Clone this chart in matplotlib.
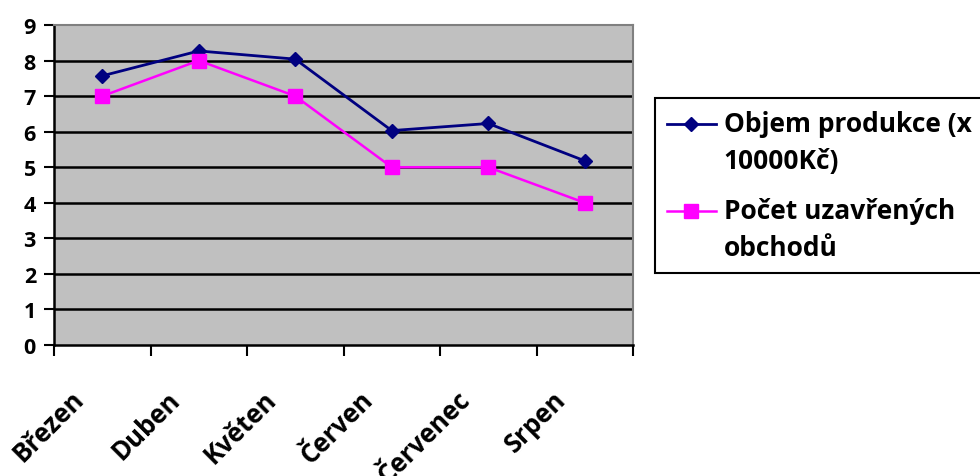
import numpy as np
import matplotlib.pyplot as plt
from matplotlib.transforms import ScaledTranslation
from matplotlib.legend_handler import HandlerLine2D

# data
months = ['Březen', 'Duben', 'Květen', 'Červen', 'Červenec', 'Srpen']
objem = [7.57, 8.27, 8.04, 6.03, 6.23, 5.18]
pocet = [7, 8, 7, 5, 5, 4]
labels = ['Objem produkce (x\n10000Kč)', 'Počet uzavřených\nobchodů']

plt.rcParams['font.family'] = ['Open Sans', 'DejaVu Sans']
plt.rcParams['font.weight'] = 'bold'


class UpHandler(HandlerLine2D):
    # legend marker sits on the first line of a two-line label
    def __init__(self, shift, **kw):
        super().__init__(**kw)
        self.shift = shift

    def create_artists(self, legend, orig_handle, xdescent, ydescent,
                       width, height, fontsize, trans):
        return super().create_artists(legend, orig_handle, xdescent,
                                      ydescent - self.shift, width, height,
                                      fontsize, trans)


fig = plt.figure(figsize=(9.8, 4.77), dpi=100)
ax = fig.add_axes([54 / 980, 1 - 346 / 477, (633 - 54) / 980, (346 - 26) / 477])
ax.set_facecolor('#C0C0C0')

x = np.arange(len(months))
for yv in range(1, 9):
    ax.axhline(yv, color='black', lw=1.8, zorder=1)

l1, = ax.plot(x, objem, color='#000080', lw=2, marker='D', ms=7.5, zorder=3)
l2, = ax.plot(x, pocet, color='#FF00FF', lw=1.8, marker='s', ms=10, zorder=3)

ax.set_xlim(-0.5, len(months) - 0.5)
ax.set_ylim(0, 9)
ax.set_yticks(range(10))
ax.set_yticklabels([str(v) for v in range(10)], fontsize=15.5, fontweight='bold')
ax.tick_params(axis='y', length=7, width=1.5, pad=6, direction='out')

ax.set_xticks(x)
ax.set_xticks(np.arange(-0.5, len(months)), minor=True)
ax.tick_params(axis='x', which='major', length=0, pad=0)
ax.tick_params(axis='x', which='minor', length=8, width=1.5, direction='out')
ax.set_xticklabels(months, fontsize=18.5, fontweight='bold', rotation=45,
                   ha='right', va='top')
off = ScaledTranslation(-13 / 100, -40 / 100, fig.dpi_scale_trans)
for t in ax.get_xticklabels():
    t.set_transform(t.get_transform() + off)

for s in ['left', 'bottom']:
    ax.spines[s].set_color('black')
    ax.spines[s].set_linewidth(1.8)
for s in ['right', 'top']:
    ax.spines[s].set_color('#808080')
    ax.spines[s].set_linewidth(1.5)

leg = fig.legend([l1, l2], labels, loc='upper left',
                 bbox_to_anchor=(655 / 980, 1 - 99 / 477), borderaxespad=0,
                 fancybox=False, framealpha=1, edgecolor='black',
                 prop={'size': 19, 'weight': 'bold'}, handlelength=1.85,
                 handletextpad=0.3, labelspacing=0.85, borderpad=0.45,
                 handler_map={l1: UpHandler(28), l2: UpHandler(28)})
leg.get_frame().set_linewidth(1.5)
for t in leg.get_texts():
    t.set_linespacing(1.5)

fig.savefig('out.png', dpi=100)
